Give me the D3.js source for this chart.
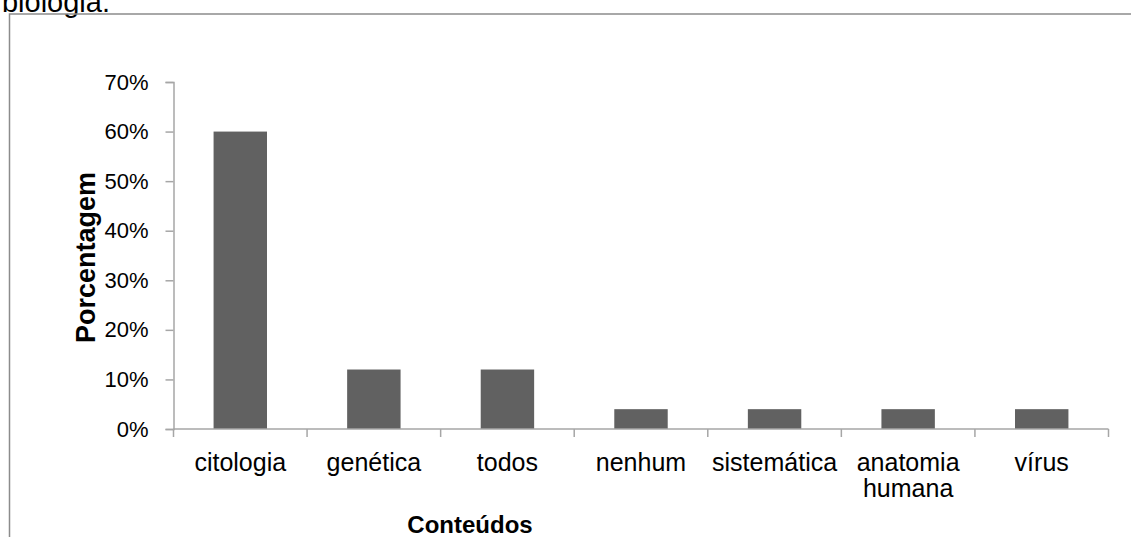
<!DOCTYPE html>
<html>
<head>
<meta charset="utf-8">
<script src="https://cdn.jsdelivr.net/npm/d3@7"></script>
<style>
  html, body { margin: 0; padding: 0; background: #fff; overflow: hidden; }
  svg { display: block; }
  text { font-family: "Liberation Sans", Arial, sans-serif; fill: #000; }
</style>
</head>
<body>
<svg id="chart" width="1131" height="537"></svg>
<script>
// Conteúdos citados pelos alunos (percentual de respostas)
const categories = ["citologia", "genética", "todos", "nenhum", "sistemática", "anatomia humana", "vírus"];
const values = [60, 12, 12, 4, 4, 4, 4];
const yTicks = [0, 10, 20, 30, 40, 50, 60, 70];
const categoryLines = [["citologia"], ["genética"], ["todos"], ["nenhum"], ["sistemática"], ["anatomia", "humana"], ["vírus"]];

const svg = d3.select("#chart");
const W = 1131, H = 537;
const plot = { left: 173.5, right: 1108.5, top: 82, bottom: 429 };
const axisColor = "#a6a6a6";

// Texto do parágrafo anterior, cortado pela borda superior
svg.append("text")
  .attr("x", 110).attr("y", 12)
  .attr("text-anchor", "end")
  .style("font-size", "29px")
  .text("biologia.");

// Moldura do gráfico
svg.append("rect")
  .attr("x", 9.5).attr("y", 14)
  .attr("width", W + 20).attr("height", H + 20)
  .attr("fill", "none")
  .attr("stroke", "#8c8c8c")
  .attr("stroke-width", 1.5);

const x = d3.scaleBand()
  .domain(categories)
  .range([plot.left, plot.right])
  .paddingInner(0.6)
  .paddingOuter(0.3);

const y = d3.scaleLinear()
  .domain([0, 70])
  .range([plot.bottom, plot.top]);

// Eixo Y
const yAxis = svg.append("g")
  .attr("transform", `translate(${plot.left},0)`)
  .call(d3.axisLeft(y).tickValues(yTicks).tickSize(8).tickPadding(17).tickFormat(d => d + "%"));
yAxis.select(".domain").attr("stroke", axisColor).attr("stroke-width", 1.5);
yAxis.selectAll(".tick line").attr("stroke", axisColor).attr("stroke-width", 1.5);
yAxis.selectAll(".tick text")
  .style("font-family", "'Liberation Sans', Arial, sans-serif")
  .style("font-size", "22px")
  .attr("fill", "#000");

// Barras
svg.append("g").selectAll("rect")
  .data(categories)
  .join("rect")
  .attr("x", d => x(d))
  .attr("width", x.bandwidth())
  .attr("y", (d, i) => y(values[i]))
  .attr("height", (d, i) => y(0) - y(values[i]))
  .attr("fill", "#616161");

// Eixo X com marcas nos limites das categorias
const step = x.step();
const bounds = categories.map(c => x(c) - step * x.paddingInner() / 2);
bounds.push(plot.right);
const xAxis = svg.append("g");
xAxis.append("line")
  .attr("x1", plot.left).attr("x2", plot.right)
  .attr("y1", y(0)).attr("y2", y(0))
  .attr("stroke", axisColor).attr("stroke-width", 1.5);
xAxis.selectAll("line.tick")
  .data(bounds)
  .join("line")
  .attr("class", "tick")
  .attr("x1", d => d).attr("x2", d => d)
  .attr("y1", y(0)).attr("y2", y(0) + 8)
  .attr("stroke", axisColor).attr("stroke-width", 1.5);

const labels = xAxis.selectAll("text.cat")
  .data(categories)
  .join("text")
  .attr("class", "cat")
  .attr("text-anchor", "middle")
  .attr("x", d => x(d) + x.bandwidth() / 2)
  .attr("y", 471)
  .style("font-size", "25px");
labels.selectAll("tspan")
  .data((d, i) => categoryLines[i])
  .join("tspan")
  .attr("x", function () { return this.parentNode.getAttribute("x"); })
  .attr("dy", (d, i) => i === 0 ? 0 : 25.5)
  .text(d => d);

// Títulos dos eixos
svg.append("text")
  .attr("x", 470).attr("y", 533)
  .attr("text-anchor", "middle")
  .style("font-size", "24px")
  .style("font-weight", "bold")
  .text("Conteúdos");

svg.append("text")
  .attr("transform", `translate(95,${(plot.top + plot.bottom) / 2 + 2}) rotate(-90)`)
  .attr("text-anchor", "middle")
  .style("font-size", "27px")
  .style("font-weight", "bold")
  .text("Porcentagem");
</script>
</body>
</html>
